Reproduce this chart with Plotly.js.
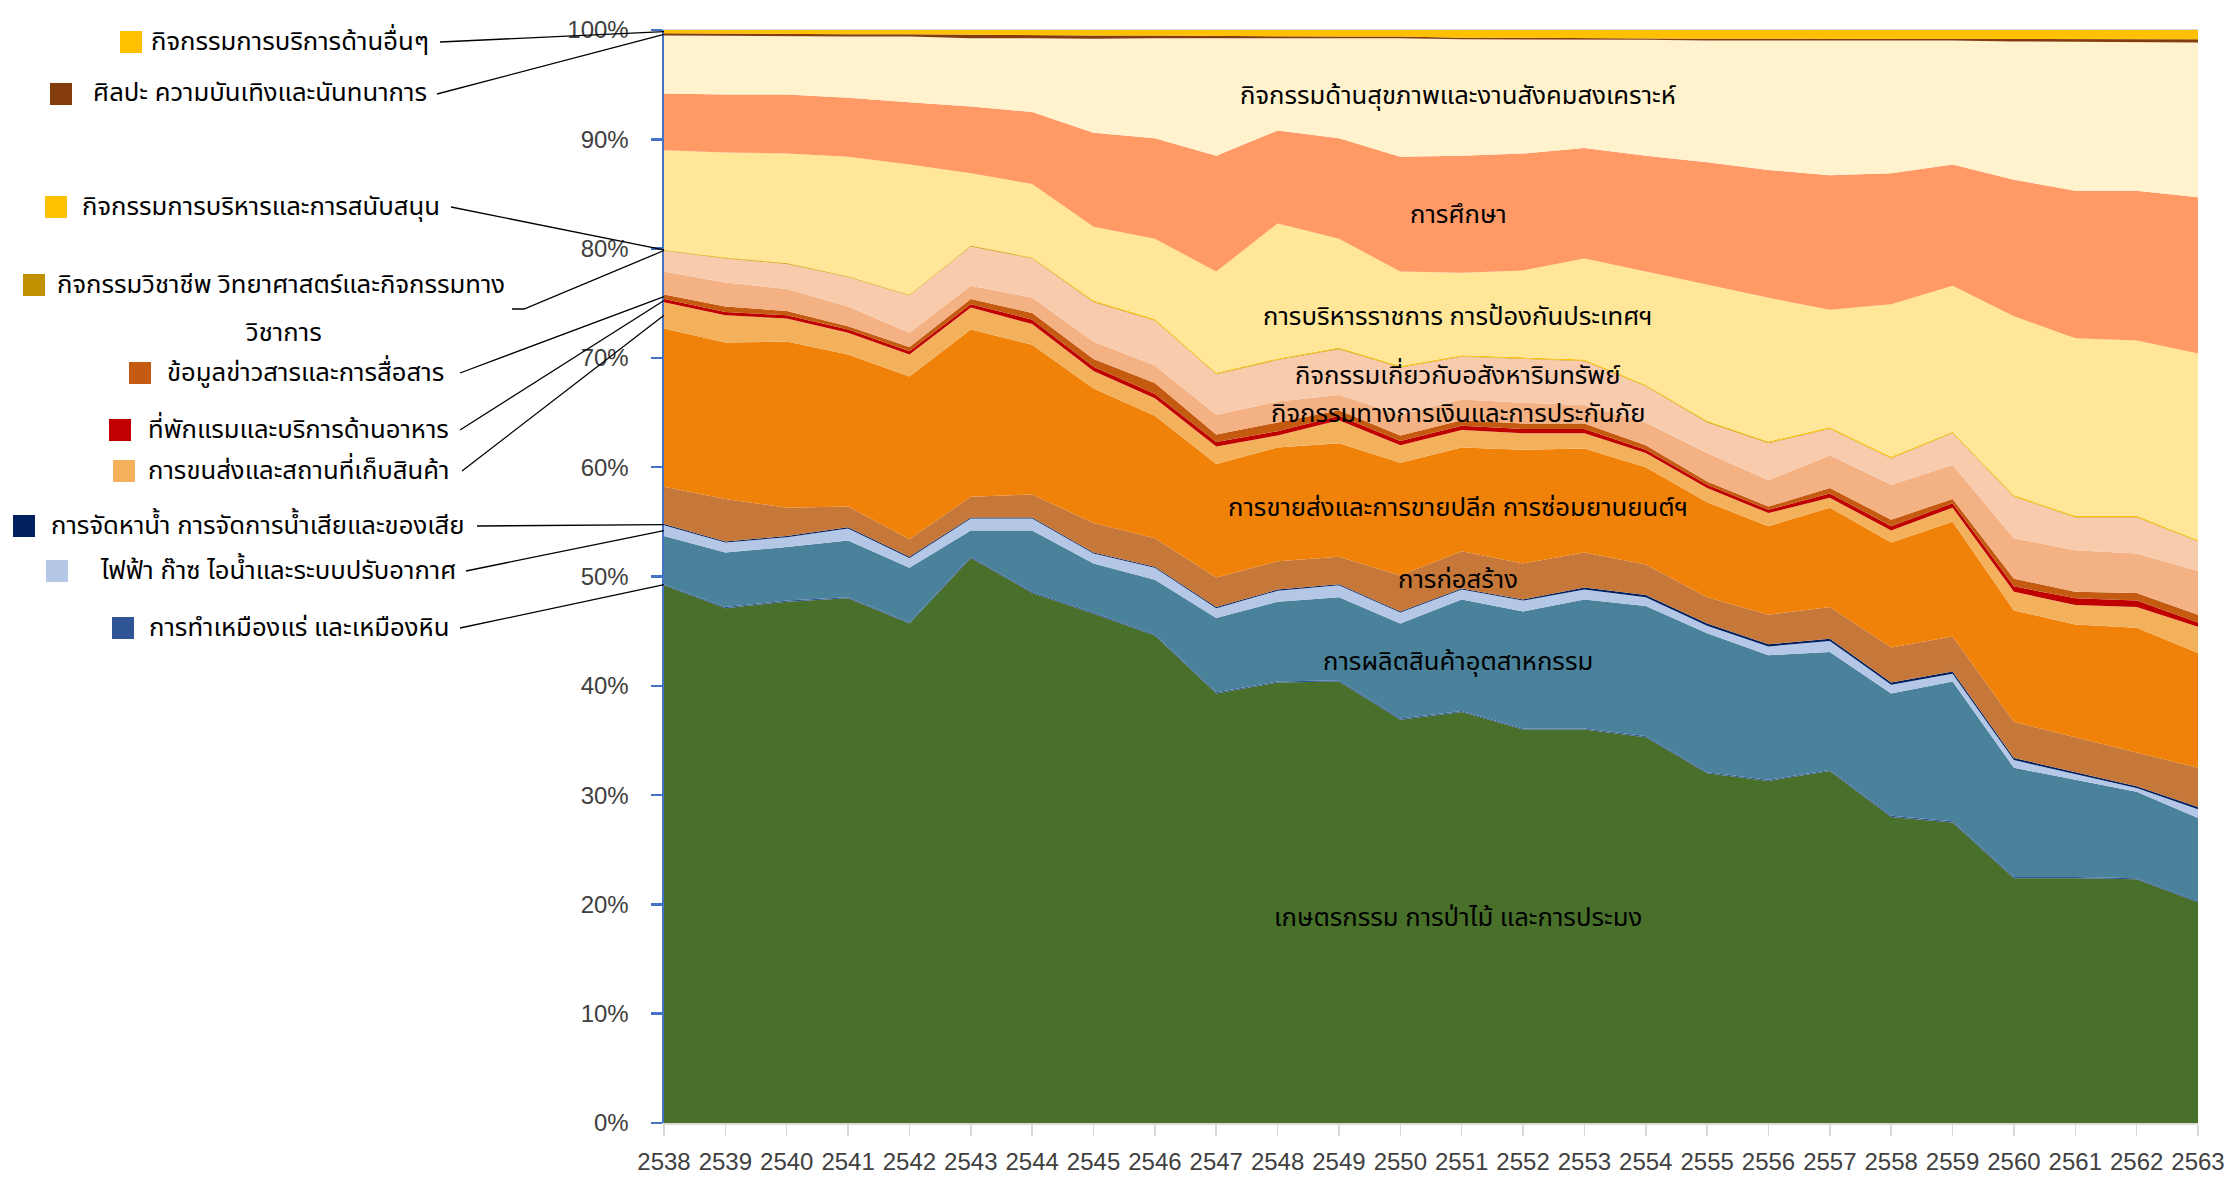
<!DOCTYPE html>
<html>
<head>
<meta charset="utf-8">
<script src="https://cdn.plot.ly/plotly-3.0.1.min.js"></script>
<style>html,body{margin:0;padding:0;background:#fff;}#chart{width:2231px;height:1180px;}</style>
</head>
<body>
<div id="chart"></div>
<script>
const years = ['2538','2539','2540','2541','2542','2543','2544','2545','2546','2547','2548','2549','2550','2551','2552','2553','2554','2555','2556','2557','2558','2559','2560','2561','2562','2563'];

const agriculture   = [49.2,47.1,47.7,48.0,45.7,51.7,48.5,46.6,44.6,39.3,40.3,40.4,36.9,37.6,36.0,36.0,35.3,32.0,31.3,32.2,28.0,27.5,22.4,22.4,22.3,20.2];
const mining        = [0.1,0.1,0.1,0.1,0.1,0.1,0.1,0.1,0.1,0.1,0.1,0.1,0.1,0.1,0.1,0.1,0.1,0.1,0.1,0.1,0.1,0.1,0.1,0.1,0.1,0.1];
const manufacturing = [4.4,5.0,4.9,5.2,5.0,2.4,5.6,4.5,5.0,6.8,7.3,7.6,8.7,10.2,10.7,11.8,11.9,12.7,11.4,10.8,11.2,12.8,10.0,8.9,7.9,7.6];
const electricity   = [1.0,0.9,0.9,1.1,0.9,1.1,1.1,0.9,1.1,0.9,1.0,1.1,1.0,0.9,1.0,0.9,0.8,0.7,0.8,1.0,0.8,0.7,0.7,0.5,0.35,0.8];
const water         = [0.1,0.1,0.1,0.1,0.1,0.1,0.1,0.1,0.1,0.1,0.1,0.1,0.1,0.1,0.1,0.2,0.2,0.2,0.2,0.2,0.2,0.2,0.2,0.2,0.15,0.2];
const construction  = [3.4,3.9,2.6,1.9,1.6,1.9,2.1,2.7,2.6,2.7,2.6,2.5,3.3,3.4,3.3,3.2,2.8,2.4,2.7,2.9,3.2,3.2,3.3,3.2,3.1,3.6];
const wholesale     = [14.5,14.3,15.2,13.9,14.9,15.3,13.7,12.3,11.2,10.4,10.4,10.4,10.3,9.5,10.4,9.5,8.9,8.7,8.1,9.1,9.6,10.5,10.2,10.3,11.4,10.5];
const transport     = [2.4,2.5,2.1,2.0,2.0,2.0,1.9,1.6,1.6,1.6,1.1,2.1,1.6,1.6,1.5,1.4,1.3,1.3,1.2,0.9,1.1,1.3,1.7,1.8,1.9,2.4];
const accommodation = [0.3,0.3,0.3,0.3,0.3,0.3,0.4,0.4,0.4,0.4,0.4,0.4,0.4,0.4,0.4,0.4,0.3,0.3,0.3,0.4,0.4,0.4,0.5,0.6,0.6,0.4];
const information   = [0.4,0.5,0.4,0.3,0.4,0.5,0.6,0.7,1.0,0.7,0.8,0.5,0.5,0.5,0.5,0.5,0.4,0.3,0.3,0.5,0.6,0.4,0.7,0.6,0.7,0.7];
const finance       = [2.1,2.2,2.0,1.8,1.3,1.2,1.4,1.6,1.6,1.8,1.9,1.4,1.9,1.9,1.9,1.7,2.1,2.6,2.4,3.0,3.2,3.1,3.7,3.8,3.6,4.0];
const realEstate    = [1.9,2.2,2.3,2.7,3.4,3.6,3.6,3.6,4.1,3.7,3.8,4.2,4.3,3.9,4.0,4.0,3.3,2.8,3.4,2.4,2.4,2.9,3.8,3.0,3.3,2.7];
const professional  = [0.05,0.05,0.05,0.05,0.05,0.05,0.05,0.05,0.05,0.05,0.05,0.05,0.05,0.05,0.05,0.05,0.05,0.05,0.05,0.05,0.05,0.05,0.05,0.05,0.05,0.05];
const adminSupport  = [0.05,0.05,0.05,0.05,0.05,0.05,0.05,0.1,0.1,0.1,0.1,0.1,0.1,0.1,0.1,0.1,0.1,0.1,0.1,0.1,0.1,0.1,0.1,0.1,0.1,0.1];
const publicAdmin   = [9.1,9.6,10.0,10.9,11.9,6.6,6.7,6.75,7.35,9.25,12.35,9.95,8.65,7.55,7.95,9.25,10.35,12.45,13.15,10.75,13.95,13.35,16.35,16.25,16.05,17.05];
const education     = [5.2,5.3,5.4,5.4,5.7,6.1,6.6,8.6,9.2,10.6,8.5,9.2,10.5,10.7,10.7,10.1,10.6,11.2,11.7,12.3,12.0,11.1,12.5,13.5,13.7,14.3];
const health        = [5.3,5.35,5.35,5.6,6.0,6.25,6.75,8.6,9.15,10.75,8.45,9.15,10.85,10.65,10.45,9.9,10.6,11.15,11.85,12.35,12.15,11.35,12.65,13.6,13.55,14.15];
const arts          = [0.2,0.2,0.2,0.2,0.2,0.3,0.3,0.3,0.25,0.2,0.2,0.15,0.15,0.15,0.15,0.15,0.15,0.15,0.15,0.15,0.15,0.15,0.25,0.25,0.3,0.3];
const otherServices = [0.3,0.35,0.35,0.4,0.4,0.45,0.45,0.5,0.5,0.55,0.55,0.6,0.6,0.7,0.7,0.75,0.75,0.8,0.8,0.8,0.8,0.8,0.8,0.85,0.85,0.85];

const yTickVals = [0,10,20,30,40,50,60,70,80,90,100];
const yTickText = ['0%','10%','20%','30%','40%','50%','60%','70%','80%','90%','100%'];

// series definitions (bottom -> top)
const series = [
  {name:'เกษตรกรรม การป่าไม้ และการประมง', y:agriculture, color:'#48702B'},
  {name:'การทำเหมืองแร่ และเหมืองหิน', y:mining, color:'#2F5597'},
  {name:'การผลิตสินค้าอุตสาหกรรม', y:manufacturing, color:'#4A829B'},
  {name:'ไฟฟ้า ก๊าซ ไอน้ำและระบบปรับอากาศ', y:electricity, color:'#B4C7E7'},
  {name:'การจัดหาน้ำ การจัดการน้ำเสียและของเสีย', y:water, color:'#002060'},
  {name:'การก่อสร้าง', y:construction, color:'#C6773A'},
  {name:'การขายส่งและการขายปลีก การซ่อมยานยนต์ฯ', y:wholesale, color:'#F0820A'},
  {name:'การขนส่งและสถานที่เก็บสินค้า', y:transport, color:'#F4B15C'},
  {name:'ที่พักแรมและบริการด้านอาหาร', y:accommodation, color:'#C00000'},
  {name:'ข้อมูลข่าวสารและการสื่อสาร', y:information, color:'#C55A11'},
  {name:'กิจกรรมทางการเงินและการประกันภัย', y:finance, color:'#F4B183'},
  {name:'กิจกรรมเกี่ยวกับอสังหาริมทรัพย์', y:realEstate, color:'#F8CBAD'},
  {name:'กิจกรรมวิชาชีพ วิทยาศาสตร์และกิจกรรมทางวิชาการ', y:professional, color:'#BF9000'},
  {name:'กิจกรรมการบริหารและการสนับสนุน', y:adminSupport, color:'#FFC000'},
  {name:'การบริหารราชการ การป้องกันประเทศฯ', y:publicAdmin, color:'#FFE699'},
  {name:'การศึกษา', y:education, color:'#FF9966'},
  {name:'กิจกรรมด้านสุขภาพและงานสังคมสงเคราะห์', y:health, color:'#FFF2CC'},
  {name:'ศิลปะ ความบันเทิงและนันทนาการ', y:arts, color:'#843C0C'},
  {name:'กิจกรรมการบริการด้านอื่นๆ', y:otherServices, color:'#FFC000'}
];

const traces = series.map(s => ({
  type:'scatter', mode:'lines', x:years, y:s.y, name:s.name,
  stackgroup:'one', groupnorm:'percent',
  line:{width:0, color:s.color}, fillcolor:s.color, hoverinfo:'skip'
}));

// geometry of the plot area (pixels)
const W = 2231, H = 1180;
const L = 664, R = 2198, T = 30, B = 1123;
const px = x => (x - L) / (R - L);
const py = y => (B - y) / (B - T);

// midpoint of each band at the first year (in %)
const firstTotal = series.reduce((a,s)=>a+s.y[0],0);
const mids = [];
{ let c = 0; series.forEach(s => { const v = s.y[0]/firstTotal*100; mids.push(c + v/2); c += v; }); }

const thaiFont = 'Leelawadee UI, Noto Sans Thai, Tahoma, Noto Sans, sans-serif';
const FS = 25.7;

// legend-style labels on the left: [series index, text, text right x, text y, square x0, leader start x]
const sideLabels = [
  [18, 'กิจกรรมการบริการด้านอื่นๆ', 431, 42, 120, 440],
  [17, 'ศิลปะ ความบันเทิงและนันทนาการ', 429, 94, 50, 437],
  [13, 'กิจกรรมการบริหารและการสนับสนุน', 442, 207, 45, 451],
  [9,  'ข้อมูลข่าวสารและการสื่อสาร', 446, 373, 129, 460],
  [8,  'ที่พักแรมและบริการด้านอาหาร', 451, 430, 109, 460],
  [7,  'การขนส่งและสถานที่เก็บสินค้า', 451, 471, 113, 462],
  [4,  'การจัดหาน้ำ การจัดการน้ำเสียและของเสีย', 466, 526, 13, 477],
  [3,  'ไฟฟ้า ก๊าซ ไอน้ำและระบบปรับอากาศ', 458, 571, 46, 466],
  [1,  'การทำเหมืองแร่ และเหมืองหิน', 451, 628, 112, 460]
];

const annotations = [];
const shapes = [];
const SQ = 22;
sideLabels.forEach(([idx, txt, xr, yc, sx, lx]) => {
  annotations.push({xref:'paper', yref:'paper', x:px(xr), y:py(yc), xanchor:'right', yanchor:'middle',
    text:txt, showarrow:false, font:{family:thaiFont, size:FS, color:'#000'}});
  shapes.push({type:'rect', xref:'paper', yref:'paper', x0:px(sx), x1:px(sx+SQ), y0:py(yc-SQ/2), y1:py(yc+SQ/2),
    fillcolor:series[idx].color, line:{width:0}});
  shapes.push({type:'line', xref:'paper', yref:'paper', x0:px(lx), y0:py(yc), x1:0, y1:mids[idx]/100,
    line:{color:'#000', width:1.3}});
});
// professional (label on two separate lines)
annotations.push({xref:'paper', yref:'paper', x:px(281), y:py(285), xanchor:'center', yanchor:'middle',
  text:'กิจกรรมวิชาชีพ วิทยาศาสตร์และกิจกรรมทาง', showarrow:false,
  font:{family:thaiFont, size:FS, color:'#000'}});
annotations.push({xref:'paper', yref:'paper', x:px(283), y:py(333), xanchor:'center', yanchor:'middle',
  text:'วิชาการ', showarrow:false, font:{family:thaiFont, size:FS, color:'#000'}});
shapes.push({type:'rect', xref:'paper', yref:'paper', x0:px(23), x1:px(23+SQ), y0:py(285-SQ/2), y1:py(285+SQ/2),
  fillcolor:series[12].color, line:{width:0}});
shapes.push({type:'path', xref:'paper', yref:'paper',
  path:`M ${px(512)} ${py(309)} L ${px(524)} ${py(309)} L 0 ${mids[12]/100}`, line:{color:'#000', width:1.3}});

// in-chart labels: [text, y in %]
const inLabels = [
  ['กิจกรรมด้านสุขภาพและงานสังคมสงเคราะห์', 93.9],
  ['การศึกษา', 83.0],
  ['การบริหารราชการ การป้องกันประเทศฯ', 73.7],
  ['กิจกรรมเกี่ยวกับอสังหาริมทรัพย์', 68.3],
  ['กิจกรรมทางการเงินและการประกันภัย', 64.8],
  ['การขายส่งและการขายปลีก การซ่อมยานยนต์ฯ', 56.2],
  ['การก่อสร้าง', 49.6],
  ['การผลิตสินค้าอุตสาหกรรม', 42.1],
  ['เกษตรกรรม การป่าไม้ และการประมง', 18.7]
];
inLabels.forEach(([txt, yv]) => {
  annotations.push({xref:'paper', yref:'y', x:px(1458), y:yv, xanchor:'center', yanchor:'middle',
    text:txt, showarrow:false, font:{family:thaiFont, size:FS, color:'#000'}});
});

const tickFont = {family:'Liberation Sans, Arial, sans-serif', size:24, color:'#404040'};
const layout = {
  width:W, height:H,
  margin:{l:L, r:W-R, t:T, b:H-B, pad:0},
  paper_bgcolor:'#fff', plot_bgcolor:'#fff',
  showlegend:false,
  font:tickFont,
  xaxis:{type:'category', range:[0, years.length-1], showgrid:false, zeroline:false,
    showline:true, linecolor:'#D9D9D9', linewidth:1.5, mirror:true,
    ticks:'outside', ticklen:11, tickcolor:'#D9D9D9', tickwidth:1.5,
    tickfont:tickFont, ticklabelstandoff:6},
  yaxis:{range:[0,100], tickvals:yTickVals, ticktext:yTickText, showgrid:false, zeroline:false,
    showline:true, linecolor:'#4472C4', linewidth:2.5,
    ticks:'outside', ticklen:11, tickcolor:'#4472C4', tickwidth:2.5,
    tickfont:tickFont, ticklabelstandoff:17},
  annotations, shapes
};

Plotly.newPlot('chart', traces, layout, {displayModeBar:false, staticPlot:true});
</script>
</body>
</html>
